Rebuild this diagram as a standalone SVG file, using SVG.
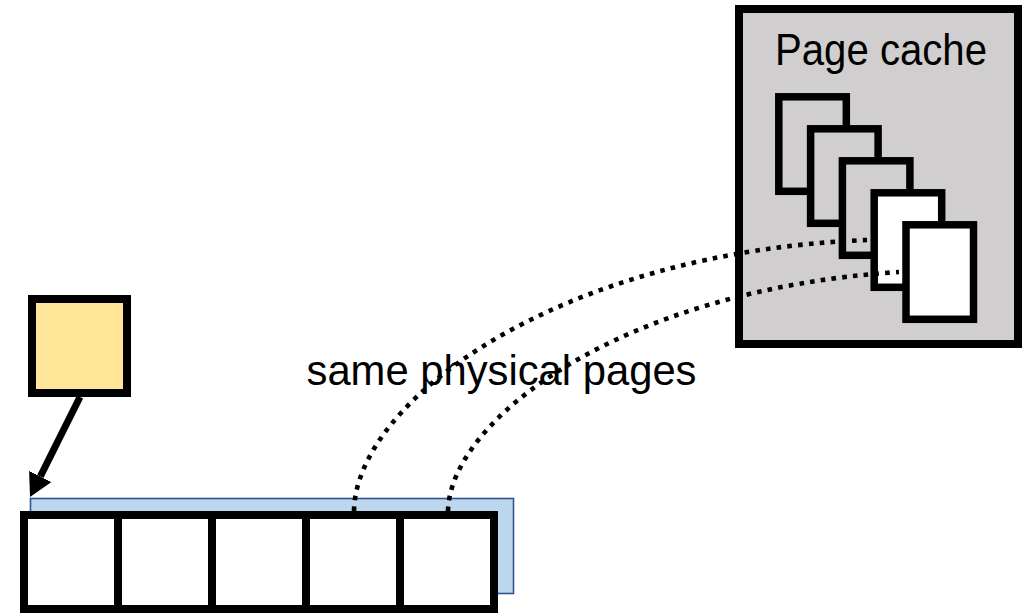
<svg xmlns="http://www.w3.org/2000/svg" width="1022" height="613" viewBox="0 0 1022 613">
<style>
  .thick { stroke: #000; stroke-width: 8; }
  .page { stroke: #000; stroke-width: 7.5; }
  .grey { fill: #D0CECE; }
  .white { fill: #FFFFFF; }
  .label { font-family: "Liberation Sans", Arial, sans-serif; font-size: 42px; fill: #000; }
  .dotted { fill: none; stroke: #000; stroke-width: 4.6; stroke-dasharray: 4.6 6.2; }
</style>
<defs>
  <marker id="arrowhead" markerUnits="userSpaceOnUse" markerWidth="24" markerHeight="26" refX="0" refY="12.5" orient="auto" viewBox="0 0 24 25">
    <path d="M0,0 L23,12.5 L0,25 Z" fill="#000"/>
  </marker>
</defs>
<rect width="1022" height="613" fill="#FFFFFF"/>

<g id="mapping">
  <rect x="30.5" y="498.5" width="483" height="95" fill="#BDD7EE" stroke="#2F5597" stroke-width="1.6"/>
</g>

<g id="buffer">
  <rect x="24" y="515" width="470" height="94" class="thick white"/>
  <line x1="118" y1="515" x2="118" y2="609" class="thick"/>
  <line x1="212" y1="515" x2="212" y2="609" class="thick"/>
  <line x1="306" y1="515" x2="306" y2="609" class="thick"/>
  <line x1="400" y1="515" x2="400" y2="609" class="thick"/>
</g>

<g id="process">
  <rect x="32" y="299" width="95" height="94" fill="#FFE699" class="thick"/>
</g>

<g id="page-cache">
  <rect x="739" y="9" width="279" height="335" class="thick grey"/>
  <text x="775" y="65" class="label" style="font-size:44px" textLength="212" lengthAdjust="spacingAndGlyphs">Page cache</text>
  <rect x="778.8" y="96.8" width="67.5" height="94.5" class="page grey"/>
  <rect x="810.6" y="128.8" width="67.5" height="94.5" class="page grey"/>
  <rect x="842.4" y="160.8" width="67.5" height="94.5" class="page grey"/>
  <rect x="874.2" y="192.8" width="67.5" height="94.5" class="page white"/>
  <rect x="906.0" y="224.8" width="67.5" height="94.5" class="page white"/>
</g>

<g id="label-same-pages">
  <text x="306.5" y="385" class="label" textLength="390" lengthAdjust="spacingAndGlyphs">same physical pages</text>
</g>

<g id="connectors">
  <line x1="80" y1="397" x2="40.3" y2="476.5" stroke="#000" stroke-width="7" marker-end="url(#arrowhead)"/>
  <path class="dotted" d="M354,511 C356,400 560,252 867,240"/>
  <path class="dotted" d="M448,511 C450,420 620,290 899,272"/>
</g>
</svg>
